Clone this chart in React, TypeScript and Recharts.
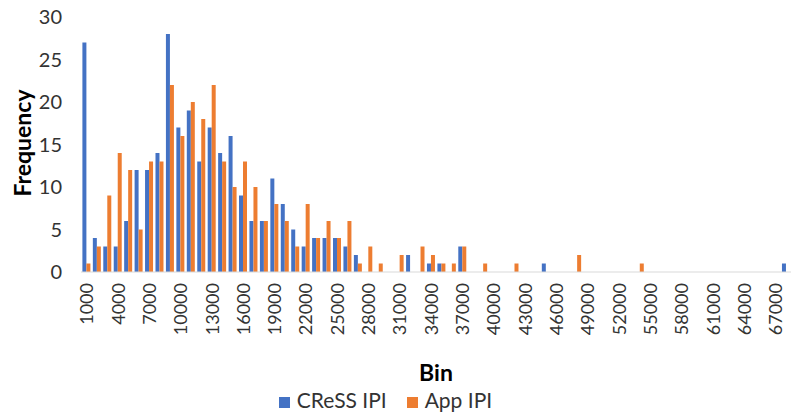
import React from "react"
import { BarChart, Bar, XAxis, YAxis, Legend, Label } from "recharts"

const BLUE = "#4472C4"
const ORANGE = "#ED7D31"
const FONT = "Lato, 'Open Sans', sans-serif"

// bins 1000..67000 step 1000, plus the trailing overflow bin
const bins = [
  "1000", "2000", "3000", "4000", "5000", "6000", "7000", "8000", "9000", "10000",
  "11000", "12000", "13000", "14000", "15000", "16000", "17000", "18000", "19000", "20000",
  "21000", "22000", "23000", "24000", "25000", "26000", "27000", "28000", "29000", "30000",
  "31000", "32000", "33000", "34000", "35000", "36000", "37000", "38000", "39000", "40000",
  "41000", "42000", "43000", "44000", "45000", "46000", "47000", "48000", "49000", "50000",
  "51000", "52000", "53000", "54000", "55000", "56000", "57000", "58000", "59000", "60000",
  "61000", "62000", "63000", "64000", "65000", "66000", "67000", "More",
]

const cressIpi = [
  27, 4, 3, 3, 6, 12, 12, 14, 28, 17,
  19, 13, 17, 14, 16, 9, 6, 6, 11, 8,
  5, 3, 4, 4, 4, 3, 2, 0, 0, 0,
  0, 2, 0, 1, 1, 0, 3, 0, 0, 0,
  0, 0, 0, 0, 1, 0, 0, 0, 0, 0,
  0, 0, 0, 0, 0, 0, 0, 0, 0, 0,
  0, 0, 0, 0, 0, 0, 0, 1,
]

const appIpi = [
  1, 3, 9, 14, 12, 5, 13, 13, 22, 16,
  20, 18, 22, 13, 10, 13, 10, 6, 8, 6,
  3, 8, 4, 6, 4, 6, 1, 3, 1, 0,
  2, 0, 3, 2, 1, 1, 3, 0, 1, 0,
  0, 1, 0, 0, 0, 0, 0, 2, 0, 0,
  0, 0, 0, 1, 0, 0, 0, 0, 0, 0,
  0, 0, 0, 0, 0, 0, 0, 0,
]

const seriesOrder = ["cress", "app"]
const yTicks = [0, 5, 10, 15, 20, 25, 30]

const data = bins.map((bin, i) => ({ bin, cress: cressIpi[i], app: appIpi[i] }))

function BinTick(props: any) {
  const { x, payload } = props
  const y = 283
  return (
    <text
      x={x}
      y={y}
      transform={`rotate(-90, ${x}, ${y})`}
      textAnchor="end"
      dominantBaseline="central"
      fontSize={18}
      fontFamily={FONT}
      fill="#333"
    >
      {payload.value}
    </text>
  )
}

export default function App() {
  return (
    <div style={{ width: 800, height: 419 }}>
      <style>{"body{margin:0}"}</style>
      <BarChart
        width={800}
        height={419}
        data={data}
        margin={{ top: 17, right: 9, left: 0, bottom: 0 }}
        barCategoryGap={1.4}
        barGap={0}
      >
        <XAxis
          dataKey="bin"
          interval={2}
          height={115}
          tick={<BinTick />}
          tickLine={false}
          axisLine={{ stroke: "#d9d9d9" }}
        >
          <Label
            content={() => (
              <text
                x={436}
                y={372}
                textAnchor="middle"
                dominantBaseline="central"
                fontSize={23}
                fontWeight="bold"
                fontFamily={FONT}
                fill="#000"
              >
                Bin
              </text>
            )}
          />
        </XAxis>
        <YAxis
          width={81}
          domain={[0, 30]}
          ticks={yTicks}
          tickLine={false}
          axisLine={false}
          tickMargin={13}
          tick={{ fontSize: 20, fontFamily: FONT, fill: "#333" }}
        >
          <Label
            content={() => (
              <text
                x={22}
                y={143}
                transform="rotate(-90, 22, 143)"
                textAnchor="middle"
                dominantBaseline="central"
                fontSize={23}
                fontWeight="bold"
                fontFamily={FONT}
                fill="#000"
              >
                Frequency
              </text>
            )}
          />
        </YAxis>
        <Legend
          verticalAlign="bottom"
          height={32}
          iconType="square"
          iconSize={11}
          itemSorter={(item: any) => seriesOrder.indexOf(item.dataKey)}
          wrapperStyle={{ fontSize: 21, fontFamily: FONT }}
          formatter={(value: string) => (
            <span style={{ color: "#333", marginLeft: 3, marginRight: 10 }}>{value}</span>
          )}
        />
        <Bar dataKey="cress" name="CReSS IPI" fill={BLUE} isAnimationActive={false} />
        <Bar dataKey="app" name="App IPI" fill={ORANGE} isAnimationActive={false} />
      </BarChart>
    </div>
  )
}
